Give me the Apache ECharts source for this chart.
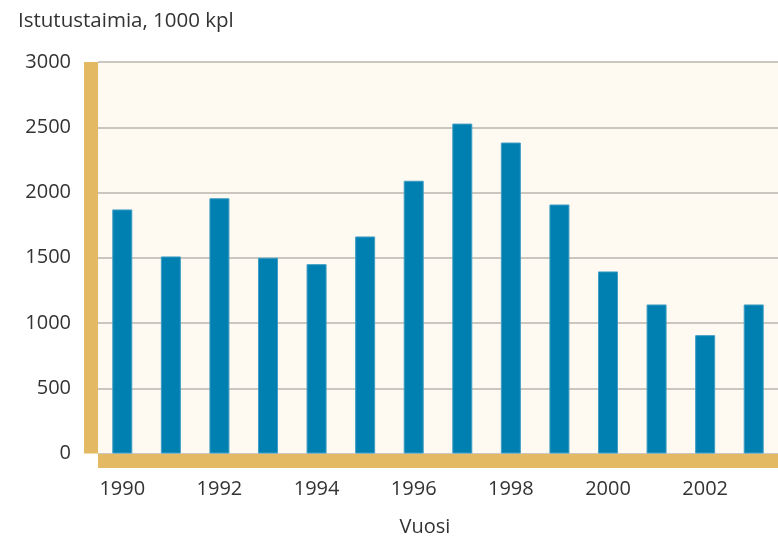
<!DOCTYPE html>
<html>
<head>
<meta charset="utf-8">
<script src="https://cdn.jsdelivr.net/npm/echarts@6/dist/echarts.min.js"></script>
<style>
html,body{margin:0;padding:0;background:#ffffff;}
#chart{width:778px;height:538px;}
</style>
</head>
<body>
<div id="chart"></div>
<script>
const years = ['1990','1991','1992','1993','1994','1995','1996','1997','1998','1999','2000','2001','2002','2003'];
const seedlings = [1870, 1510, 1956, 1500, 1451, 1663, 2090, 2528, 2383, 1908, 1395, 1142, 907, 1142];
const yTicks = [0, 500, 1000, 1500, 2000, 2500, 3000];
const titleText = 'Istutustaimia, 1000 kpl';
const xName = 'Vuosi';

const FONT = '"Open Sans", sans-serif';
const chart = echarts.init(document.getElementById('chart'), null, {renderer: 'canvas'});
chart.setOption({
  animation: false,
  backgroundColor: '#ffffff',
  title: [
    {text: titleText, left: 13, top: 6, textStyle: {fontFamily: FONT, fontSize: 20.5, fontWeight: 'normal', color: '#333333'}},
    {text: xName, left: 420, top: 512, textAlign: 'center', textStyle: {fontFamily: FONT, fontSize: 20, fontWeight: 'normal', color: '#333333'}}
  ],
  grid: {left: 98, top: 62, width: 689, height: 391.5, backgroundColor: '#fef9f1', show: true, borderWidth: 0},
  xAxis: {
    type: 'category',
    data: years,
    boundaryGap: true,
    offset: 7,
    axisLine: {show: true, onZero: false, lineStyle: {color: '#e3b964', width: 14, cap: 'butt'}},
    axisTick: {show: false},
    axisLabel: {interval: 1, margin: 19, fontFamily: FONT, fontSize: 20, color: '#333333'},
    splitLine: {show: false}
  },
  yAxis: {
    type: 'value',
    min: yTicks[0],
    max: yTicks[yTicks.length - 1],
    interval: yTicks[1] - yTicks[0],
    offset: 7,
    axisLine: {show: true, lineStyle: {color: '#e3b964', width: 14, cap: 'butt'}},
    axisTick: {show: false},
    axisLabel: {margin: 20, fontFamily: FONT, fontSize: 20, color: '#333333', formatter: function (v) { return String(v); }},
    splitLine: {show: true, lineStyle: {color: '#cbc7c0', width: 2}}
  },
  series: [{
    type: 'bar',
    data: seedlings,
    barWidth: 20,
    itemStyle: {color: '#0080b0', borderColor: '#3f9cc4', borderWidth: 1}
  }]
});
</script>
</body>
</html>
